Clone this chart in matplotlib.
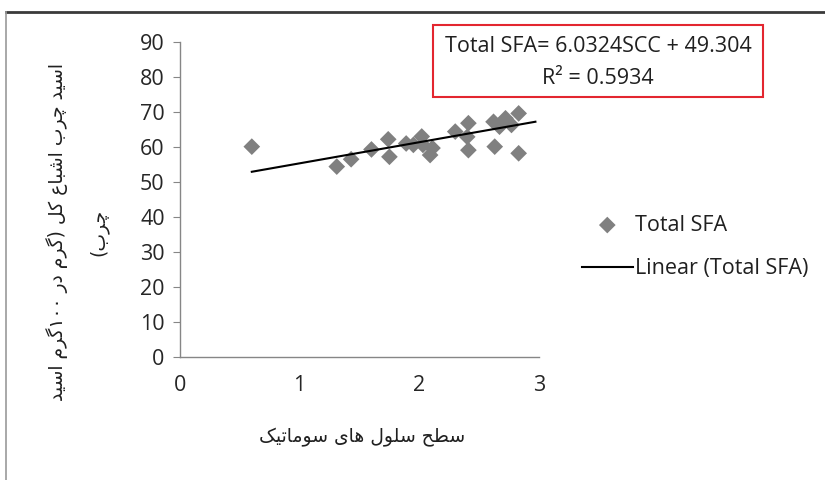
import matplotlib
matplotlib.use("Agg")
import matplotlib.pyplot as plt
from matplotlib.lines import Line2D
from matplotlib.patches import Rectangle

# ---- data -------------------------------------------------------------
scc = [0.60, 1.31, 1.43, 1.60, 1.74, 1.75, 1.89, 1.95, 2.02, 2.03, 2.09,
       2.11, 2.30, 2.40, 2.41, 2.41, 2.62, 2.63, 2.67, 2.72, 2.77, 2.83, 2.83]
total_sfa = [60.1, 54.4, 56.5, 59.3, 62.2, 57.2, 61.0, 60.6, 63.0, 60.6, 57.7,
             59.7, 64.4, 62.9, 66.8, 59.1, 67.2, 60.1, 65.8, 68.2, 66.3, 69.6, 58.2]
slope = 6.0324
intercept = 49.304
r_squared = 0.5934
trend_x = [0.60, 2.97]

x_ticks = [0, 1, 2, 3]
y_ticks = [0, 10, 20, 30, 40, 50, 60, 70, 80, 90]

x_label = "سطح سلول های سوماتیک"
y_label_1 = "اسید چرب اشباع کل (گرم در ۱۰۰گرم اسید"
y_label_2 = "چرب)"

# ---- minimal Persian shaping for presentation forms ---------------------
# char: (isolated, final, initial, medial); None initial => right-joining only
FORMS = {
    "ا": (0xFE8D, 0xFE8E, None, None),
    "ب": (0xFE8F, 0xFE90, 0xFE91, 0xFE92),
    "ت": (0xFE95, 0xFE96, 0xFE97, 0xFE98),
    "ح": (0xFEA1, 0xFEA2, 0xFEA3, 0xFEA4),
    "د": (0xFEA9, 0xFEAA, None, None),
    "ر": (0xFEAD, 0xFEAE, None, None),
    "س": (0xFEB1, 0xFEB2, 0xFEB3, 0xFEB4),
    "ش": (0xFEB5, 0xFEB6, 0xFEB7, 0xFEB8),
    "ط": (0xFEC1, 0xFEC2, 0xFEC3, 0xFEC4),
    "ع": (0xFEC9, 0xFECA, 0xFECB, 0xFECC),
    "ل": (0xFEDD, 0xFEDE, 0xFEDF, 0xFEE0),
    "م": (0xFEE1, 0xFEE2, 0xFEE3, 0xFEE4),
    "ه": (0xFEE9, 0xFEEA, 0xFEEB, 0xFEEC),
    "و": (0xFEED, 0xFEEE, None, None),
    "ک": (0xFB8E, 0xFB8F, 0xFB90, 0xFB91),
    "گ": (0xFB92, 0xFB93, 0xFB94, 0xFB95),
    "چ": (0xFB7A, 0xFB7B, 0xFB7C, 0xFB7D),
    "ی": (0xFBFC, 0xFBFD, 0xFBFE, 0xFBFF),
}
MIRROR = {"(": ")", ")": "("}


def shape_rtl(text):
    shaped = []
    n = len(text)
    for i, ch in enumerate(text):
        if ch not in FORMS:
            shaped.append(ch)
            continue
        prev = text[i - 1] if i > 0 else None
        nxt = text[i + 1] if i < n - 1 else None
        join_prev = prev in FORMS and FORMS[prev][2] is not None
        join_next = FORMS[ch][2] is not None and nxt in FORMS
        iso, fin, ini, med = FORMS[ch]
        if join_prev and join_next:
            cp = med
        elif join_prev:
            cp = fin
        elif join_next:
            cp = ini
        else:
            cp = iso
        shaped.append(chr(cp))
    # visual order: reverse, keeping digit runs left-to-right
    out, run = [], []
    for ch in reversed(shaped):
        if ch.isdigit():
            run.append(ch)
            continue
        if run:
            out.extend(reversed(run))
            run = []
        out.append(MIRROR.get(ch, ch))
    if run:
        out.extend(reversed(run))
    return "".join(out)


# ---- figure -----------------------------------------------------------
W, H = 825, 480
fig = plt.figure(figsize=(W / 100, H / 100), dpi=100)
latin = ["Open Sans", "DejaVu Sans"]
text_color = "#262626"
fs = 15.5

ax = fig.add_axes([180 / W, 1 - 357 / H, (539 - 180) / W, (357 - 42) / H])
ax.scatter(scc, total_sfa, marker="D", s=8.5 ** 2, color="#808080",
           edgecolors="none", zorder=3, label="Total SFA")
trend_y = [slope * v + intercept for v in trend_x]
ax.plot(trend_x, trend_y, color="black", lw=1.5, zorder=4,
        label="Linear (Total SFA)")

ax.set_xlim(0, 3)
ax.set_ylim(0, 90)
ax.set_xticks(x_ticks)
ax.set_yticks(y_ticks)
ax.set_xticklabels([str(v) for v in x_ticks], family=latin, fontsize=fs,
                   color=text_color)
ax.set_yticklabels([str(v) for v in y_ticks], family=latin, fontsize=fs,
                   color=text_color)
for side in ("top", "right"):
    ax.spines[side].set_visible(False)
for side in ("left", "bottom"):
    ax.spines[side].set_color("#868686")
    ax.spines[side].set_linewidth(1.0)
ax.tick_params(axis="y", length=5, color="#868686", pad=6)
ax.tick_params(axis="x", length=0, pad=13)

# axis titles
persian = ["DejaVu Sans"]
fig.text(362 / W, 1 - 437 / H, shape_rtl(x_label), ha="center", va="center",
         fontsize=13.5, family=persian, color="#202020")
fig.text(57 / W, 1 - 232 / H, shape_rtl(y_label_1), ha="center",
         va="center", rotation=90, fontsize=13.5, family=persian,
         color="#202020")
fig.text(99 / W, 1 - 232 / H, shape_rtl(y_label_2), ha="center",
         va="center", rotation=90, fontsize=13.5, family=persian,
         color="#202020")

# regression equation box
fig.patches.append(Rectangle((433 / W, 1 - 97 / H), (763 - 433) / W,
                             (97 - 25) / H, transform=fig.transFigure,
                             fill=False, edgecolor="#e3262f", lw=1.5))
fig.text(598 / W, 1 - 47 / H,
         f"Total SFA= {slope}SCC + {intercept}", ha="center", va="center",
         fontsize=fs, family=latin, color="#202020")
fig.text(598 / W, 1 - 79 / H, f"R² = {r_squared}", ha="center",
         va="center", fontsize=fs, family=latin, color="#202020")

# legend
handles, labels = ax.get_legend_handles_labels()
fig.legend(handles, labels, loc="center left",
           bbox_to_anchor=(582 / W, 1 - 247 / H), frameon=False,
           prop={"family": latin, "size": fs}, labelcolor="#202020",
           handlelength=2.35, handletextpad=0.1, labelspacing=1.05,
           borderpad=0, borderaxespad=0, markerscale=1.0)

# outer frame lines
fig.add_artist(Line2D([6 / W, 1], [1 - 12 / H, 1 - 12 / H],
                      transform=fig.transFigure, color="#3a3a3a", lw=2))
fig.add_artist(Line2D([6 / W, 6 / W], [0, 1 - 12 / H],
                      transform=fig.transFigure, color="#9a9a9a", lw=1.2))

fig.savefig("out.png", dpi=100)
